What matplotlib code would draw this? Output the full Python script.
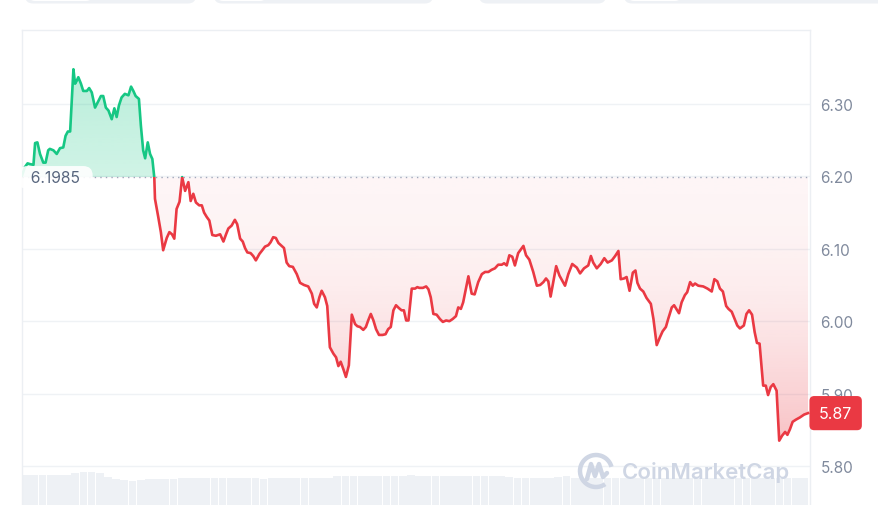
import numpy as np
import matplotlib
matplotlib.use("Agg")
import matplotlib.pyplot as plt
from matplotlib.colors import to_rgb
from matplotlib.patches import Polygon, Rectangle, FancyBboxPatch, Arc
from matplotlib.transforms import blended_transform_factory

# ============================================================
# DATA (24h price)
# ============================================================

HOURS = [
    0.00, 0.09, 0.17, 0.24, 0.35, 0.40, 0.47, 0.55, 0.65, 0.72,
    0.80, 0.85, 0.96, 1.06, 1.16, 1.26, 1.33, 1.40, 1.47, 1.57,
    1.62, 1.67, 1.72, 1.80, 1.87, 1.98, 2.05, 2.13, 2.23, 2.31,
    2.41, 2.48, 2.56, 2.64, 2.74, 2.82, 2.89, 2.96, 3.04, 3.14,
    3.25, 3.33, 3.40, 3.47, 3.57, 3.63, 3.70, 3.76, 3.84, 3.91,
    3.98, 4.04, 4.06, 4.16, 4.24, 4.31, 4.42, 4.50, 4.58, 4.65,
    4.72, 4.81, 4.89, 4.98, 5.08, 5.15, 5.23, 5.31, 5.41, 5.49,
    5.56, 5.64, 5.72, 5.81, 5.92, 6.05, 6.15, 6.23, 6.30, 6.40,
    6.50, 6.57, 6.66, 6.74, 6.81, 6.88, 6.98, 7.06, 7.14, 7.25,
    7.32, 7.42, 7.52, 7.59, 7.67, 7.75, 7.83, 7.93, 8.00, 8.08,
    8.16, 8.27, 8.39, 8.49, 8.61, 8.74, 8.85, 8.92, 9.00, 9.08,
    9.15, 9.25, 9.32, 9.40, 9.51, 9.59, 9.66, 9.73, 9.81, 9.89,
    9.98, 10.07, 10.17, 10.24, 10.32, 10.42, 10.50, 10.57, 10.65, 10.73,
    10.81, 10.90, 11.01, 11.10, 11.18, 11.26, 11.34, 11.42, 11.51, 11.59,
    11.66, 11.73, 11.80, 11.90, 12.00, 12.07, 12.13, 12.24, 12.34, 12.41,
    12.48, 12.56, 12.66, 12.76, 12.85, 12.95, 13.05, 13.15, 13.25, 13.32,
    13.40, 13.47, 13.55, 13.63, 13.73, 13.82, 13.93, 14.04, 14.14, 14.24,
    14.34, 14.44, 14.54, 14.65, 14.72, 14.80, 14.88, 14.97, 15.05, 15.15,
    15.31, 15.39, 15.49, 15.61, 15.72, 15.82, 15.92, 16.00, 16.07, 16.14,
    16.31, 16.41, 16.58, 16.68, 16.80, 16.94, 17.04, 17.16, 17.29, 17.37,
    17.44, 17.55, 17.67, 17.78, 17.88, 18.01, 18.11, 18.21, 18.28, 18.38,
    18.46, 18.55, 18.65, 18.73, 18.79, 18.87, 18.97, 19.07, 19.20, 19.28,
    19.38, 19.48, 19.56, 19.66, 19.73, 19.84, 19.91, 19.99, 20.06, 20.14,
    20.24, 20.31, 20.40, 20.48, 20.55, 20.65, 20.80, 20.93, 21.06, 21.14,
    21.23, 21.31, 21.40, 21.50, 21.57, 21.67, 21.75, 21.84, 21.92, 22.04,
    22.12, 22.20, 22.29, 22.37, 22.44, 22.52, 22.63, 22.71, 22.78, 22.86,
    22.94, 23.04, 23.12, 23.21, 23.30, 23.37, 23.45, 23.53, 23.63, 23.75,
    23.88, 24.00,
]

PRICES = [
    6.201, 6.213, 6.218, 6.217, 6.216, 6.246, 6.247, 6.231, 6.219, 6.219,
    6.236, 6.238, 6.236, 6.231, 6.239, 6.240, 6.256, 6.262, 6.262, 6.348,
    6.328, 6.332, 6.337, 6.328, 6.318, 6.318, 6.322, 6.316, 6.295, 6.302,
    6.311, 6.311, 6.295, 6.291, 6.279, 6.294, 6.282, 6.298, 6.309, 6.314,
    6.312, 6.324, 6.318, 6.311, 6.307, 6.270, 6.236, 6.225, 6.247, 6.231,
    6.224, 6.198, 6.169, 6.144, 6.123, 6.098, 6.115, 6.123, 6.120, 6.114,
    6.155, 6.165, 6.199, 6.180, 6.192, 6.166, 6.176, 6.164, 6.160, 6.160,
    6.150, 6.144, 6.139, 6.119, 6.118, 6.120, 6.110, 6.120, 6.128, 6.132,
    6.140, 6.134, 6.114, 6.110, 6.101, 6.095, 6.094, 6.090, 6.084, 6.093,
    6.097, 6.103, 6.105, 6.109, 6.116, 6.115, 6.108, 6.104, 6.101, 6.081,
    6.076, 6.075, 6.065, 6.053, 6.050, 6.048, 6.038, 6.024, 6.019, 6.033,
    6.042, 6.033, 6.021, 5.964, 5.955, 5.950, 5.938, 5.944, 5.934, 5.923,
    5.939, 6.009, 5.996, 5.993, 5.992, 5.988, 5.992, 6.001, 6.010, 6.001,
    5.989, 5.981, 5.981, 5.982, 5.989, 5.992, 6.015, 6.022, 6.018, 6.015,
    6.015, 6.001, 6.001, 6.045, 6.045, 6.047, 6.046, 6.046, 6.048, 6.044,
    6.033, 6.010, 6.009, 6.003, 5.999, 6.001, 6.000, 6.003, 6.007, 6.019,
    6.017, 6.026, 6.044, 6.062, 6.038, 6.037, 6.054, 6.065, 6.068, 6.068,
    6.071, 6.073, 6.078, 6.078, 6.080, 6.077, 6.091, 6.089, 6.077, 6.094,
    6.104, 6.091, 6.085, 6.068, 6.049, 6.050, 6.054, 6.059, 6.055, 6.034,
    6.076, 6.063, 6.049, 6.065, 6.079, 6.074, 6.066, 6.073, 6.077, 6.090,
    6.081, 6.073, 6.079, 6.087, 6.081, 6.084, 6.090, 6.097, 6.058, 6.059,
    6.061, 6.042, 6.067, 6.070, 6.053, 6.045, 6.041, 6.032, 6.024, 6.003,
    5.967, 5.978, 5.986, 5.992, 6.003, 6.019, 6.022, 6.016, 6.011, 6.026,
    6.036, 6.040, 6.054, 6.049, 6.052, 6.049, 6.048, 6.045, 6.041, 6.058,
    6.055, 6.045, 6.041, 6.021, 6.017, 6.013, 6.004, 5.994, 5.990, 5.994,
    6.010, 6.015, 6.009, 5.985, 5.970, 5.969, 5.911, 5.911, 5.898, 5.909,
    5.913, 5.904, 5.835, 5.842, 5.847, 5.843, 5.851, 5.861, 5.864, 5.867,
    5.871, 5.873,
]

# 15-minute volume bars (relative units)
VOLUME = [
    30, 30, 30, 30.5, 30, 30.5, 32, 33, 33, 32,
    28.5, 26, 25, 24.5, 25.5, 26, 26, 26, 26.5, 27,
    27.5, 27, 27.5, 27.5, 27, 27.5, 27, 27, 27, 26.5,
    27, 27, 27, 27, 27.5, 27, 27.5, 27.5, 29, 29.5,
    29.5, 29.5, 29, 29.5, 29.5, 29.5, 29.5, 30, 29.5, 29.5,
    29.5, 29.5, 29.5, 29, 29.5, 29.5, 29, 29.5, 29.5, 28,
    27.5, 27.5, 27, 27.5, 27, 28.5, 29, 27.5, 27, 27.5,
    27, 27, 27, 27.5, 27, 27, 27, 27, 27.5, 27,
    27, 27, 27, 27, 27.5, 27, 27, 27, 27, 27,
    27.5, 27, 27, 27, 27, 27,
]

OPEN_PRICE = 6.1985
LAST_LABEL = "5.87"
PRICE_TICKS = [5.80, 5.90, 6.00, 6.10, 6.20, 6.30]

GREEN = "#16c784"
RED = "#ea3943"
GRID = "#eff2f5"
TICK_COLOR = "#808a9d"
WATERMARK = "#cfd6e4"

plt.rcParams["font.family"] = ["Inter", "DejaVu Sans"]

x = np.array(HOURS)
y = np.array(PRICES)

# ============================================================
# FIGURE / AXES
# ============================================================

W, H = 879, 506
fig = plt.figure(figsize=(W / 100, H / 100), dpi=100)
fig.patch.set_facecolor("white")

left, right, top = 22 / W, 810 / W, 1 - 31 / H
ax = fig.add_axes([left, 0, right - left, top])
vol_ax = fig.add_axes([left, 0, right - left, 60 / H], zorder=-1)

X_MAX = 24.06
Y_MIN, Y_MAX = 5.7461, 6.4022

# volume strip at the bottom
step = 24 / len(VOLUME)
vol_x = np.arange(len(VOLUME)) * step + step / 2
vol_ax.bar(vol_x, VOLUME, width=step * 0.94, color="#eef1f5", linewidth=0)
vol_ax.set_xlim(0, X_MAX)
vol_ax.set_ylim(0, 60)
vol_ax.axis("off")

ax.patch.set_alpha(0)

# gradient fills clipped to the area between price and open price
poly = Polygon(np.column_stack([np.r_[x, x[::-1]],
                                np.r_[y, np.full_like(y, OPEN_PRICE)]]),
               closed=True, facecolor="none", edgecolor="none")
ax.add_patch(poly)


def gradient(color, alphas, y0, y1):
    rgba = np.zeros((len(alphas), 1, 4))
    rgba[..., :3] = to_rgb(color)
    rgba[:, 0, 3] = alphas
    im = ax.imshow(rgba, extent=[0, X_MAX, y0, y1], aspect="auto",
                   origin="upper", zorder=1, interpolation="bilinear")
    im.set_clip_path(poly)


t = np.linspace(0, 1, 256)
gradient(GREEN, 0.30 - 0.10 * t, OPEN_PRICE, y.max())
gradient(RED, 0.05 + 0.26 * t ** 2, y.min(), OPEN_PRICE)

# price line, green above the open price, red below
above = Rectangle((0, OPEN_PRICE), X_MAX, 1, transform=ax.transData)
below = Rectangle((0, OPEN_PRICE - 1), X_MAX, 1, transform=ax.transData)
ln_up, = ax.plot(x, y, color=GREEN, lw=1.9, zorder=4, solid_joinstyle="round")
ln_dn, = ax.plot(x, y, color=RED, lw=1.9, zorder=4, solid_joinstyle="round")
ln_up.set_clip_path(above)
ln_dn.set_clip_path(below)

# open price reference
ax.axhline(OPEN_PRICE, color="#a1a7bb", lw=1, ls=(0, (1, 3)), zorder=3)

ax.set_xlim(0, X_MAX)
ax.set_ylim(Y_MIN, Y_MAX)
ax.set_yticks(PRICE_TICKS)
ax.set_yticklabels([f"{t:.2f}" for t in PRICE_TICKS])
ax.yaxis.tick_right()
ax.tick_params(axis="y", length=0, pad=7.5, labelsize=11, labelcolor=TICK_COLOR)
ax.set_xticks([])
ax.grid(axis="y", color=GRID, lw=1)
ax.set_axisbelow(True)
for side in ["left", "right", "top"]:
    ax.spines[side].set_color("#eceff3")
    ax.spines[side].set_linewidth(1)
ax.spines["bottom"].set_visible(False)

# labels
blend = blended_transform_factory(ax.transAxes, ax.transData)
ax.text(0.0, OPEN_PRICE, "  6.1985  ", transform=blend, ha="left", va="center",
        fontsize=11.3, color="#58667e", zorder=5,
        bbox=dict(boxstyle="round,pad=0.25,rounding_size=0.6", fc="white",
                  ec="none", alpha=0.9))

ax.annotate(LAST_LABEL, xy=(1.0, y[-1]), xycoords=blend, xytext=(6.5, 0),
            textcoords="offset points", ha="left", va="center", fontsize=11.5,
            color="white", zorder=6, annotation_clip=False,
            bbox=dict(boxstyle="round,pad=0.6,rounding_size=0.3", fc=RED, ec="none"))

# ============================================================
# OVERLAY: page chrome and watermark (pixel coords)
# ============================================================

ov = fig.add_axes([0, 0, 1, 1], zorder=10)
ov.set_xlim(0, W)
ov.set_ylim(H, 0)
ov.axis("off")
ov.patch.set_alpha(0)

for x0, x1 in [(25, 196), (214, 433), (479, 606), (624, 890)]:
    ov.add_patch(FancyBboxPatch((x0, -20), x1 - x0, 24.5,
                                boxstyle="round,pad=0,rounding_size=8",
                                fc="#eef1f5", ec="none"))
for x0, x1 in [(29, 92), (217, 266), (628, 681)]:
    ov.add_patch(FancyBboxPatch((x0, -20), x1 - x0, 22,
                                boxstyle="round,pad=0,rounding_size=6",
                                fc="white", ec="none"))

cx, cy, r = 596, 472, 16
ov.add_patch(Arc((cx, cy), 2 * r, 2 * r, theta1=55, theta2=345,
                 color=WATERMARK, lw=3.2))
ov.plot([cx - 9, cx - 5, cx - 1, cx + 3, cx + 7, cx + 11],
        [cy + 8, cy - 7, cy + 5, cy - 7, cy + 6, cy + 2],
        color=WATERMARK, lw=3.2, solid_joinstyle="round", solid_capstyle="round")
ov.text(622, 473, "CoinMarketCap", fontsize=16, color=WATERMARK,
        fontweight="semibold", ha="left", va="center")

fig.savefig("out.png", dpi=100)
